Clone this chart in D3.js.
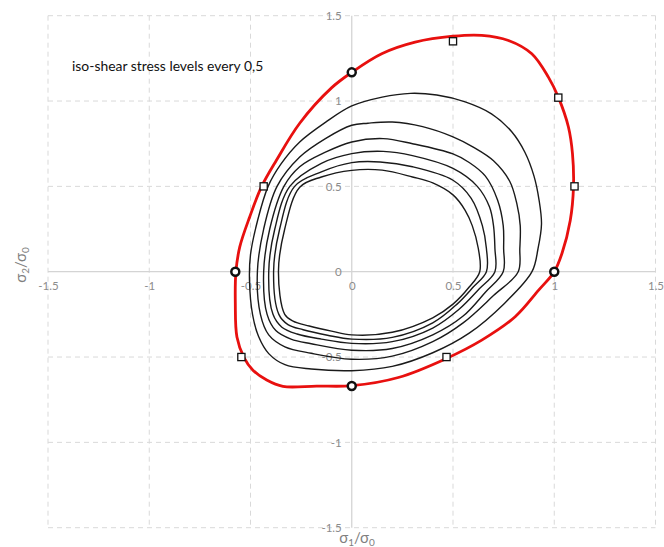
<!DOCTYPE html>
<html>
<head>
<meta charset="utf-8">
<script src="https://cdn.jsdelivr.net/npm/d3@7"></script>
<style>
    body { margin: 0; background: #fff; }
    .tick text { font-family: Lato, "Open Sans", sans-serif; fill: #8c8c8c; }
</style>
</head>
<body>
<div id="chart"></div>
<script>
// tick values
var xTicks = [-1.5, -1, -0.5, 0, 0.5, 1, 1.5];
var yTicks = [-1.5, -1, -0.5, 0, 0.5, 1, 1.5];

// red envelope (sigma1/sigma0, sigma2/sigma0)
var envelope = [
    [1, 0], [1.038, 0.107], [1.079, 0.3], [1.095, 0.497], [1.09, 0.692], [1.07, 0.848],
    [1.02, 1.023], [0.971, 1.14], [0.889, 1.277], [0.774, 1.355], [0.642, 1.385],
    [0.5, 1.38], [0.313, 1.345], [0.148, 1.277], [0, 1.168], [-0.1, 1.077],
    [-0.257, 0.87], [-0.372, 0.653], [-0.446, 0.497], [-0.504, 0.321], [-0.553, 0.145],
    [-0.572, 0], [-0.575, -0.186], [-0.567, -0.382], [-0.532, -0.503], [-0.488, -0.577],
    [-0.42, -0.635], [-0.34, -0.672], [-0.174, -0.67], [0, -0.668], [0.23, -0.62],
    [0.468, -0.508], [0.642, -0.401], [0.807, -0.264], [0.923, -0.108]
];

// iso-shear stress contours, outer to inner
var iso1 = [
    [0.89, 0], [0.92, 0.136], [0.937, 0.28], [0.925, 0.42], [0.9, 0.56], [0.855, 0.7],
    [0.79, 0.82], [0.69, 0.925], [0.56, 0.995], [0.42, 1.035], [0.29, 1.045], [0.15, 1.023],
    [0, 0.971], [-0.13, 0.875], [-0.257, 0.76], [-0.35, 0.63], [-0.413, 0.5], [-0.465, 0.3],
    [-0.5, 0.1], [-0.505, -0.05], [-0.49, -0.25], [-0.46, -0.38], [-0.41, -0.48],
    [-0.33, -0.545], [-0.2, -0.57], [0, -0.58], [0.2, -0.555], [0.4, -0.475], [0.58, -0.36],
    [0.75, -0.19]
];
var iso2 = [
    [0.822, 0], [0.83, 0.136], [0.832, 0.27], [0.815, 0.4], [0.78, 0.53], [0.7, 0.65],
    [0.6, 0.73], [0.5, 0.79], [0.35, 0.85], [0.2, 0.877], [0.08, 0.87], [0, 0.858],
    [-0.13, 0.78], [-0.257, 0.672], [-0.369, 0.5], [-0.435, 0.25], [-0.466, 0],
    [-0.451, -0.25], [-0.41, -0.37], [-0.33, -0.44], [-0.2, -0.478], [0, -0.513],
    [0.2, -0.495], [0.4, -0.41], [0.55, -0.3], [0.7, -0.14]
];
var iso3 = [
    [0.748, 0], [0.75, 0.136], [0.748, 0.27], [0.72, 0.42], [0.66, 0.56], [0.58, 0.64],
    [0.5, 0.69], [0.3, 0.75], [0.155, 0.78], [0, 0.76], [-0.13, 0.7], [-0.257, 0.615],
    [-0.335, 0.5], [-0.405, 0.25], [-0.435, 0], [-0.418, -0.25], [-0.375, -0.345],
    [-0.3, -0.395], [-0.2, -0.422], [0, -0.46], [0.2, -0.45], [0.4, -0.37], [0.55, -0.26],
    [0.66, -0.12]
];
var iso4 = [
    [0.707, 0], [0.707, 0.136], [0.7, 0.27], [0.68, 0.38], [0.62, 0.5], [0.5, 0.605],
    [0.3, 0.68], [0.155, 0.705], [0, 0.692], [-0.15, 0.635], [-0.306, 0.5], [-0.38, 0.25],
    [-0.41, 0], [-0.389, -0.25], [-0.345, -0.325], [-0.27, -0.365], [-0.15, -0.395],
    [0, -0.42], [0.2, -0.41], [0.4, -0.33], [0.53, -0.22], [0.63, -0.1]
];
var iso5 = [
    [0.665, 0], [0.665, 0.136], [0.645, 0.27], [0.59, 0.43], [0.5, 0.536], [0.3, 0.615],
    [0.14, 0.643], [0, 0.639], [-0.15, 0.585], [-0.282, 0.5], [-0.356, 0.25], [-0.386, 0],
    [-0.36, -0.25], [-0.315, -0.31], [-0.24, -0.34], [-0.12, -0.372], [0, -0.395],
    [0.2, -0.385], [0.4, -0.3], [0.52, -0.19], [0.6, -0.09]
];
var iso6 = [
    [0.632, 0], [0.625, 0.136], [0.595, 0.27], [0.56, 0.36], [0.5, 0.45], [0.4, 0.52],
    [0.3, 0.555], [0.15, 0.595], [0, 0.594], [-0.15, 0.555], [-0.257, 0.495],
    [-0.331, 0.25], [-0.362, 0], [-0.331, -0.25], [-0.29, -0.29], [-0.21, -0.318],
    [-0.1, -0.348], [0, -0.37], [0.2, -0.355], [0.4, -0.27], [0.5, -0.19], [0.58, -0.09]
];
var isoLevels = [iso1, iso2, iso3, iso4, iso5, iso6];

// experimental points
var circlePoints = [[0, 1.168], [-0.575, 0], [1, 0], [0, -0.67]];
var squarePoints = [[0.5, 1.35], [1.02, 1.02], [1.1, 0.5], [-0.435, 0.5], [-0.545, -0.5], [0.468, -0.5]];

var width = 664, height = 547;

var svg = d3.select('#chart')
    .append('svg')
    .attr('width', width)
    .attr('height', height);

var x = d3.scaleLinear().domain([-1.5, 1.5]).range([48, 655.5]);
var y = d3.scaleLinear().domain([-1.5, 1.5]).range([527.7, 15.7]);

// grid
var grid = svg.append('g');
grid.selectAll('.vgrid')
    .data(xTicks)
    .enter()
    .append('line')
    .attr('x1', function (d) { return x(d); })
    .attr('x2', function (d) { return x(d); })
    .attr('y1', y(1.5))
    .attr('y2', y(-1.5))
    .attr('stroke', function (d) { return d === 0 ? '#d4d4d4' : '#d9d9d9'; })
    .attr('stroke-width', function (d) { return d === 0 ? 1.3 : 1; })
    .attr('stroke-dasharray', function (d) { return d === 0 ? null : '5,4'; });

grid.selectAll('.hgrid')
    .data(yTicks)
    .enter()
    .append('line')
    .attr('y1', function (d) { return y(d); })
    .attr('y2', function (d) { return y(d); })
    .attr('x1', x(-1.5))
    .attr('x2', x(1.5))
    .attr('stroke', function (d) { return d === 0 ? '#d4d4d4' : '#d9d9d9'; })
    .attr('stroke-width', function (d) { return d === 0 ? 1.3 : 1; })
    .attr('stroke-dasharray', function (d) { return d === 0 ? null : '5,4'; });

// tick labels through axes
var xAxis = d3.axisBottom(x)
    .tickValues(xTicks)
    .tickSize(0)
    .tickPadding(10)
    .tickFormat(function (d) { return String(d); });
var gx = svg.append('g')
    .attr('transform', 'translate(0,' + y(0) + ')')
    .call(xAxis);
gx.select('.domain').remove();
gx.selectAll('text').attr('font-size', 11.5);

var yAxis = d3.axisLeft(y)
    .tickValues(yTicks)
    .tickSize(0)
    .tickPadding(10)
    .tickFormat(function (d) { return String(d); });
var gy = svg.append('g')
    .attr('transform', 'translate(' + x(0) + ',0)')
    .call(yAxis);
gy.select('.domain').remove();
gy.selectAll('text').attr('font-size', 11.5);

// curves
var line = d3.line()
    .x(function (d) { return x(d[0]); })
    .y(function (d) { return y(d[1]); })
    .curve(d3.curveCatmullRomClosed.alpha(0.5));

svg.selectAll('.iso')
    .data(isoLevels)
    .enter()
    .append('path')
    .attr('d', line)
    .attr('fill', 'none')
    .attr('stroke', '#1a1a1a')
    .attr('stroke-width', 1.4);

svg.append('path')
    .attr('d', line(envelope))
    .attr('fill', 'none')
    .attr('stroke', '#e8100f')
    .attr('stroke-width', 2.8);

// markers
svg.selectAll('.sq')
    .data(squarePoints)
    .enter()
    .append('rect')
    .attr('x', function (d) { return x(d[0]) - 3.6; })
    .attr('y', function (d) { return y(d[1]) - 3.6; })
    .attr('width', 7.2)
    .attr('height', 7.2)
    .attr('fill', '#fff')
    .attr('stroke', '#111')
    .attr('stroke-width', 1.3);

svg.selectAll('.circ')
    .data(circlePoints)
    .enter()
    .append('circle')
    .attr('cx', function (d) { return x(d[0]); })
    .attr('cy', function (d) { return y(d[1]); })
    .attr('r', 4)
    .attr('fill', '#fff')
    .attr('stroke', '#111')
    .attr('stroke-width', 2.5);

// note
svg.append('text')
    .attr('x', 72)
    .attr('y', 71)
    .attr('font-family', 'Lato, "Open Sans", sans-serif')
    .attr('font-size', 13.9)
    .attr('fill', '#111')
    .text('iso-shear stress levels every 0,5');

// axis titles
var xt = svg.append('text')
    .attr('x', 357)
    .attr('y', 543)
    .attr('text-anchor', 'middle')
    .attr('font-family', 'Lato, "Open Sans", sans-serif')
    .attr('font-size', 15)
    .attr('fill', '#7f7f7f');
xt.append('tspan').text('σ');
xt.append('tspan').attr('font-size', 10).attr('dy', 3).text('1');
xt.append('tspan').attr('dy', -3).text('/σ');
xt.append('tspan').attr('font-size', 10).attr('dy', 3).text('0');

var yt = svg.append('text')
    .attr('transform', 'translate(26,265) rotate(-90)')
    .attr('text-anchor', 'middle')
    .attr('font-family', 'Lato, "Open Sans", sans-serif')
    .attr('font-size', 15)
    .attr('fill', '#7f7f7f');
yt.append('tspan').text('σ');
yt.append('tspan').attr('font-size', 10).attr('dy', 3).text('2');
yt.append('tspan').attr('dy', -3).text('/σ');
yt.append('tspan').attr('font-size', 10).attr('dy', 3).text('0');
</script>
</body>
</html>
